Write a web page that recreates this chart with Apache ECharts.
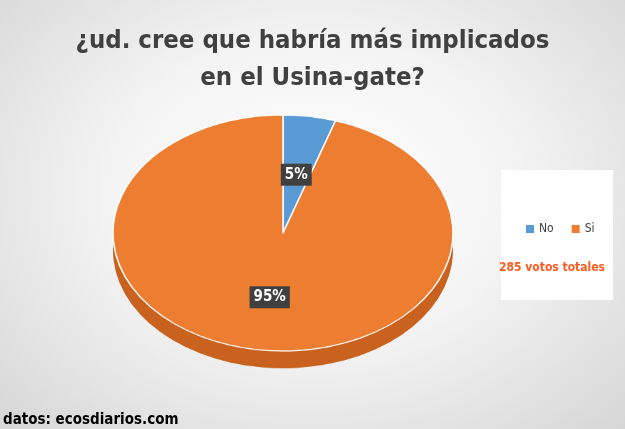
<!DOCTYPE html>
<html><head><meta charset="utf-8">
<script src="https://cdn.jsdelivr.net/npm/echarts@6/dist/echarts.min.js"></script>
<style>
html,body{margin:0;padding:0;width:625px;height:429px;overflow:hidden;
background:radial-gradient(ellipse at 50% 45%, #ffffff 0%, #f4f4f4 45%, #d6d6d6 100%);}
#pie{position:absolute;left:113px;top:115px;width:340px;height:400px;transform:scaleY(0.694);transform-origin:0 0;}
#main{position:absolute;left:0;top:0;width:625px;height:429px;}
</style></head><body>
<div id="pie"></div><div id="main"></div>
<script>
const categories = ['No', 'Si'];
const values = [5, 95];
const colors = ['#5b9bd5', '#ed7d31'];
const depthColors = ['#3f7ab3', '#c9621e'];
const titleText = '¿ud. cree que habría más implicados\nen el Usina-gate?';

const pie = echarts.init(document.getElementById('pie'));
pie.setOption({
  animation:false,
  series:[
    {type:'pie', silent:true, radius:170, center:[170,195], startAngle:90,
     label:{show:false}, itemStyle:{borderWidth:0},
     data: categories.map((c,i)=>({name:c,value:values[i],itemStyle:{color:depthColors[i]}}))},
    {type:'pie', silent:true, radius:170, center:[170,170], startAngle:90,
     label:{show:false}, itemStyle:{borderColor:'#ffffff', borderWidth:1.5},
     data: categories.map((c,i)=>({name:c,value:values[i],itemStyle:{color:colors[i]}}))}
  ]
});

const cx=283, cy=233, rx=170, ry=118;
const total = values.reduce((a,b)=>a+b,0);
let acc=0;
const labels = values.map((v,i)=>{
  const mid = (acc + v/2)/total*2*Math.PI; acc+=v;
  const f = 0.5;
  return {type:'text', z:10,
    x: cx + f*rx*Math.sin(mid), y: cy - f*ry*Math.cos(mid) + (i===1?6:0),
    style:{text: Math.round(v/total*100)+'%', fill:'#fff', font:'bold 15px "DejaVu Sans Condensed", sans-serif',
      backgroundColor:'#404040', padding:[4,4,3,4], align:'center', verticalAlign:'middle'}};
});

const main = echarts.init(document.getElementById('main'));
main.setOption({
  animation:false,
  title:{text:titleText, left:'center', top:18, textStyle:{fontFamily:'"DejaVu Sans Condensed", sans-serif', fontWeight:'bold', fontSize:25.5, color:'#404040', lineHeight:37}},
  legend:{data:categories, orient:'horizontal', left:521, top:218, itemWidth:8, itemHeight:8, itemGap:18, icon:'rect',
    textStyle:{fontFamily:'"DejaVu Sans Condensed", sans-serif', fontSize:12, color:'#404040'}},
  series:[{type:'pie', radius:0, center:[-50,-50], silent:true, label:{show:false},
    data: categories.map((c,i)=>({name:c,value:values[i],itemStyle:{color:colors[i]}}))}],
  graphic:[
    {type:'rect', z:0, shape:{x:501,y:170,width:112,height:130}, style:{fill:'#ffffff'}},
    {type:'text', z:5, x:552, y:268, style:{text:'285 votos totales', fill:'#ff5a1f', font:'bold 12px "DejaVu Sans Condensed", sans-serif', align:'center', verticalAlign:'middle'}},
    {type:'text', z:5, x:3, y:420, style:{text:'datos: ecosdiarios.com', fill:'#000', font:'bold 15px "DejaVu Sans Condensed", sans-serif', verticalAlign:'middle'}}
  ].concat(labels)
});
</script></body></html>
